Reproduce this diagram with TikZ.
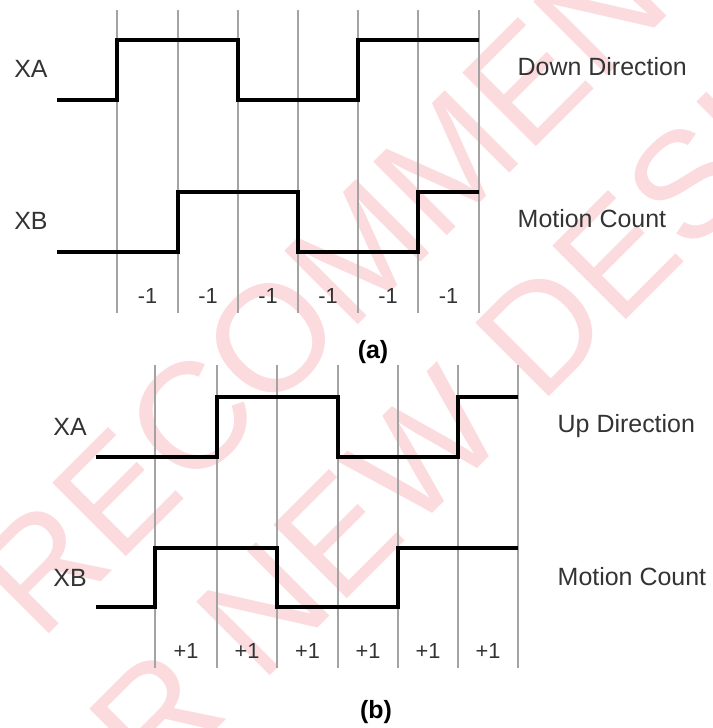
\documentclass[tikz,border=0pt]{standalone}
\usepackage{fontspec}
\setmainfont{Liberation Sans}
\usetikzlibrary{positioning}
\definecolor{wmark}{RGB}{251,219,222}
\definecolor{txtgray}{RGB}{51,51,51}

\begin{document}
\begin{tikzpicture}[
    wave/.style={line width=1pt, black},
    gridline/.style={line width=0.6pt, gray!72},
    sig/.style={anchor=base, inner sep=0, font=\fontsize{7.1}{8}\selectfont, text=txtgray},
    note/.style={anchor=base west, inner sep=0, font=\fontsize{7.1}{8}\selectfont, text=txtgray},
    count/.style={anchor=base, inner sep=0, font=\fontsize{6.2}{7}\selectfont, text=txtgray},
    caption/.style={anchor=base, inner sep=0, font=\fontsize{7.1}{8}\selectfont\bfseries},
    stamp/.style={anchor=base west, rotate=45, inner sep=0, text=wmark, font=\fontsize{43}{50}\selectfont}
]
\useasboundingbox (0,0) rectangle (7.12,-7.28);

% Marca de agua (cortada nas margens)
\begin{scope}
\clip (0,0) rectangle (7.12,-7.28);
\node[stamp] (stamp1) at (-2.15,-8.98) {NOT RECOMMENDED};
\node[stamp] (stamp2) at (0.06,-9.40) {FOR NEW DESIGNS};
\end{scope}

% (a) grid lines
\draw[gridline] (1.17,-0.10) -- (1.17,-3.13);
\draw[gridline] (1.78,-0.10) -- (1.78,-3.13);
\draw[gridline] (2.38,-0.10) -- (2.38,-3.13);
\draw[gridline] (2.98,-0.10) -- (2.98,-3.13);
\draw[gridline] (3.58,-0.10) -- (3.58,-3.13);
\draw[gridline] (4.18,-0.10) -- (4.18,-3.13);
\draw[gridline] (4.79,-0.10) -- (4.79,-3.13);

% (a) signals
\draw[wave] (0.57,-1.00) -- (1.17,-1.00) -- (1.17,-0.40) -- (2.38,-0.40) -- (2.38,-1.00) -- (3.58,-1.00) -- (3.58,-0.40) -- (4.79,-0.40);
\draw[wave] (0.57,-2.52) -- (1.78,-2.52) -- (1.78,-1.92) -- (2.98,-1.92) -- (2.98,-2.52) -- (4.18,-2.52) -- (4.18,-1.92) -- (4.79,-1.92);

\node[sig] (xa1) at (0.31,-0.78) {XA};
\node[sig] (xb1) at (0.31,-2.30) {XB};
\node[note] (down) at (5.17,-0.76) {Down Direction};
\node[note] (motion1) at (5.17,-2.28) {Motion Count};

% (a) counts
\node[count] (c1) at (1.475,-3.03) {-1};
\node[count] (c2) at (2.08,-3.03) {-1};
\node[count] (c3) at (2.68,-3.03) {-1};
\node[count] (c4) at (3.28,-3.03) {-1};
\node[count] (c5) at (3.88,-3.03) {-1};
\node[count] (c6) at (4.485,-3.03) {-1};
\node[caption] (capa) at (3.73,-3.58) {(a)};

% (b) grid lines
\draw[gridline] (1.55,-3.65) -- (1.55,-6.68);
\draw[gridline] (2.17,-3.65) -- (2.17,-6.68);
\draw[gridline] (2.77,-3.65) -- (2.77,-6.68);
\draw[gridline] (3.38,-3.65) -- (3.38,-6.68);
\draw[gridline] (3.98,-3.65) -- (3.98,-6.68);
\draw[gridline] (4.58,-3.65) -- (4.58,-6.68);
\draw[gridline] (5.18,-3.65) -- (5.18,-6.68);

% (b) signals
\draw[wave] (0.96,-4.57) -- (2.17,-4.57) -- (2.17,-3.97) -- (3.38,-3.97) -- (3.38,-4.57) -- (4.58,-4.57) -- (4.58,-3.97) -- (5.18,-3.97);
\draw[wave] (0.96,-6.07) -- (1.55,-6.07) -- (1.55,-5.48) -- (2.77,-5.48) -- (2.77,-6.07) -- (3.98,-6.07) -- (3.98,-5.48) -- (5.18,-5.48);

\node[sig] (xa2) at (0.70,-4.35) {XA};
\node[sig] (xb2) at (0.70,-5.86) {XB};
\node[note] (up) at (5.57,-4.32) {Up Direction};
\node[note] (motion2) at (5.57,-5.85) {Motion Count};

% (b) counts
\node[count] (d1) at (1.86,-6.58) {+1};
\node[count] (d2) at (2.47,-6.58) {+1};
\node[count] (d3) at (3.075,-6.58) {+1};
\node[count] (d4) at (3.68,-6.58) {+1};
\node[count] (d5) at (4.28,-6.58) {+1};
\node[count] (d6) at (4.88,-6.58) {+1};
\node[caption] (capb) at (3.76,-7.18) {(b)};

\end{tikzpicture}
\end{document}
